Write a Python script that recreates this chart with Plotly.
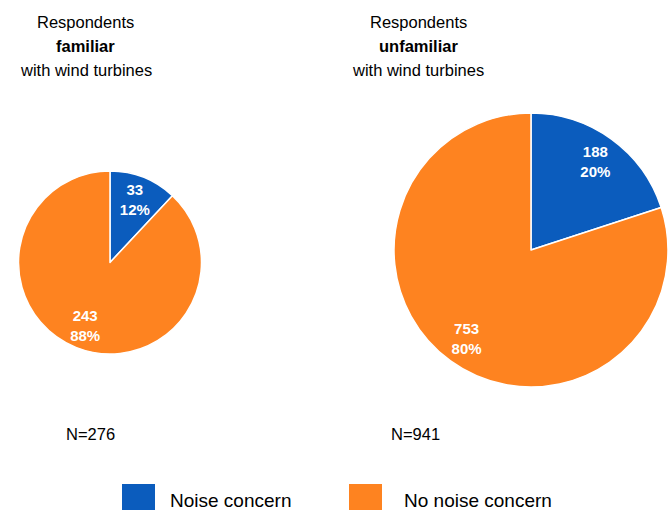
import plotly.graph_objects as go

categories = ["Noise concern", "No noise concern"]
familiar_values = [33, 243]
unfamiliar_values = [188, 753]
familiar_pct = ["12%", "88%"]
unfamiliar_pct = ["20%", "80%"]
colors = ["#0b5cbd", "#fe8320"]
FONT = "Liberation Sans, Arial, sans-serif"

fig = go.Figure()
base = dict(labels=categories, sort=False, direction="clockwise", rotation=0,
            showlegend=False)
doms = [dict(x=[0.0277, 0.3016], y=[0.3059, 0.6647]),
        dict(x=[0.5898, 1.0], y=[0.2412, 0.7784])]
holes = [0.48, 0.6]
for vals, pct, dom, hole in zip([familiar_values, unfamiliar_values],
                                [familiar_pct, unfamiliar_pct], doms, holes):
    # solid pie
    fig.add_trace(go.Pie(values=vals, domain=dom, textinfo="none",
                         marker=dict(colors=colors, line=dict(color="white", width=1.5)),
                         hoverinfo="label+value+percent", **base))
    # transparent overlay ring carrying the labels
    fig.add_trace(go.Pie(values=vals, text=pct, domain=dom, hole=hole,
                         marker=dict(colors=["rgba(0,0,0,0)"] * 2, line=dict(width=0)),
                         textposition="inside", insidetextorientation="horizontal",
                         texttemplate="<b>%{value}<br>%{text}</b>",
                         textfont=dict(family=FONT, size=15, color="white"),
                         hoverinfo="skip", **base))

titles = [(["Respondents", "<b>familiar</b>", "with wind turbines"], 86),
          (["Respondents", "<b>unfamiliar</b>", "with wind turbines"], 418)]
line_y = [22, 46, 70]
for lines, x in titles:
    for t, yy in zip(lines, line_y):
        fig.add_annotation(text=t, x=x / 668, y=1 - yy / 510, xref="paper", yref="paper",
                           xanchor="center", yanchor="middle", showarrow=False,
                           font=dict(family=FONT, size=16.5, color="black"))
n_labels = [("N=%d" % sum(familiar_values), 90), ("N=%d" % sum(unfamiliar_values), 415)]
for t, x in n_labels:
    fig.add_annotation(text=t, x=x / 668, y=1 - 434 / 510, xref="paper", yref="paper",
                       xanchor="center", yanchor="middle", showarrow=False,
                       font=dict(family=FONT, size=16.5, color="black"))

# legend
legend_pos = [(122, 168), (349, 402)]
for (sx, tx), c, lab in zip(legend_pos, colors, categories):
    fig.add_shape(type="rect", xref="paper", yref="paper",
                  x0=sx / 668, x1=(sx + 33) / 668, y0=1 - 512 / 510, y1=1 - 484 / 510,
                  fillcolor=c, line=dict(width=0))
    fig.add_annotation(text=lab, x=tx / 668, y=1 - 500 / 510, xref="paper", yref="paper",
                       xanchor="left", yanchor="middle", showarrow=False,
                       font=dict(family=FONT, size=19, color="black"))

fig.update_layout(width=668, height=510, margin=dict(l=0, r=0, t=0, b=0),
                  paper_bgcolor="white", plot_bgcolor="white")
fig.write_html("out.html")
